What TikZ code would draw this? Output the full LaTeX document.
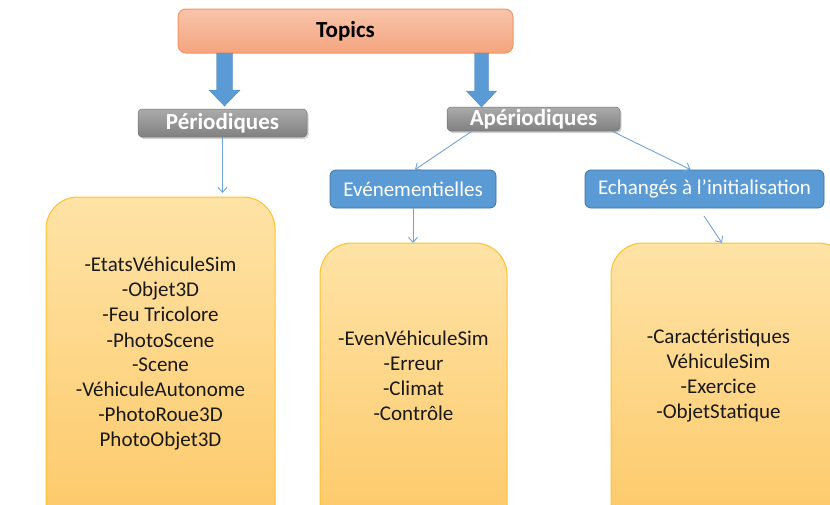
\documentclass[tikz,border=0pt]{standalone}
\usepackage{fontspec}
\setmainfont{Carlito}
\usetikzlibrary{arrows.meta,shadows,calc}
\definecolor{topicfill1}{HTML}{F9C4AA}
\definecolor{topicfill2}{HTML}{F4A47E}
\definecolor{topicdraw}{HTML}{F2955F}
\definecolor{grayfill1}{HTML}{ABABAB}
\definecolor{grayfill2}{HTML}{808080}
\definecolor{bluefill}{HTML}{5B9BD5}
\definecolor{bluedraw}{HTML}{41719C}
\definecolor{linkblue}{HTML}{6FA3D8}
\definecolor{yelfill1}{HTML}{FEE3A6}
\definecolor{yelfill2}{HTML}{FDC866}
\definecolor{yeldraw}{HTML}{FFC12A}
\tikzset{
  topicbox/.style={draw=topicdraw, line width=1pt, rounded corners=8pt, top color=topicfill1, bottom color=topicfill2, font=\bfseries\fontsize{23}{25}\selectfont, text=black, inner sep=0pt},
  graybox/.style={rounded corners=4pt, top color=grayfill1, bottom color=grayfill2, draw=grayfill2!90!black, line width=0.5pt, font=\bfseries\fontsize{23}{25}\selectfont, text=white, inner sep=0pt, drop shadow={shadow xshift=1.5pt, shadow yshift=-2pt, opacity=0.35}},
  bluebox/.style={rounded corners=6pt, fill=bluefill, draw=bluedraw, line width=0.8pt, font=\fontsize{21}{23}\selectfont, text=white, inner sep=0pt},
  yelbox/.style={rounded corners=32pt, top color=yelfill1, bottom color=yelfill2, draw=yeldraw, line width=1pt},
  listtext/.style={align=center, font=\fontsize{21}{25}\selectfont, text=black!90},
  link/.style={draw=linkblue, line width=0.9pt, -{Straight Barb[length=5pt,width=9pt]}},
  blockarrow/.style={fill=bluefill, draw=bluefill!85!black, line width=0.4pt},
}
\begin{document}
\begin{tikzpicture}[x=1pt,y=-1pt]
\useasboundingbox (0,0) rectangle (830,504);
\clip (0,0) rectangle (830,504);
% yellow boxes (extend below the page)
\draw[yelbox] (46,197) rectangle (275,540);
\draw[yelbox] (320,243) rectangle (507,540);
\draw[yelbox] (611,243) rectangle (850,540);
% top node
\node[topicbox, minimum width=335pt, minimum height=44pt] (topics) at (345.5,31) {Topics};
% block arrows
\coordinate (la) at (224.5,53);
\coordinate (ra) at (481.5,53);
\fill[blockarrow] ($(la)+(-8,0)$) -- ($(la)+(8,0)$) -- ($(la)+(8,37)$) -- ($(la)+(15.5,37)$) -- ($(la)+(0,53)$) -- ($(la)+(-15.5,37)$) -- ($(la)+(-8,37)$) -- cycle;
\fill[blockarrow] ($(ra)+(-7,0)$) -- ($(ra)+(7,0)$) -- ($(ra)+(7,38)$) -- ($(ra)+(15,38)$) -- ($(ra)+(0,54)$) -- ($(ra)+(-15,38)$) -- ($(ra)+(-7,38)$) -- cycle;
% gray boxes
\node[graybox, minimum width=169pt, minimum height=28pt] (per) at (222.5,123) {Périodiques};
\node[graybox, minimum width=173pt, minimum height=24pt] (ape) at (533.5,119) {Apériodiques};
% blue boxes
\node[bluebox, minimum width=166pt, minimum height=38pt] (eve) at (413,189) {Evénementielles};
\node[bluebox, minimum width=239pt, minimum height=38pt] (ech) at (704.5,189) {Echangés à l’initialisation};
% lists
\node[listtext] (l1) at (160.5,354) {-EtatsVéhiculeSim\\-Objet3D\\-Feu Tricolore\\-PhotoScene\\-Scene\\-VéhiculeAutonome\\-PhotoRoue3D\\PhotoObjet3D};
\node[listtext] (l2) at (413.5,376) {-EvenVéhiculeSim\\-Erreur\\-Climat\\-Contrôle};
\node[listtext] (l3) at (718.5,376) {-Caractéristiques\\VéhiculeSim\\-Exercice\\-ObjetStatique};
% connectors
\coordinate (y1top) at (222.5,193);
\coordinate (y2top) at (413,243);
\coordinate (y3top) at (722,243);
\coordinate (echlow) at (704,216);
\draw[link] (per.south) -- (y1top);
\draw[link] ($(ape.south west)+(25,0)$) -- ($(eve.north)+(2,0)$);
\draw[link] ($(ape.south east)+(-8,0)$) -- ($(ech.north)+(-14,0)$);
\draw[link] (eve.south) -- (y2top);
\draw[link] (echlow) -- (y3top);
\end{tikzpicture}
\end{document}
